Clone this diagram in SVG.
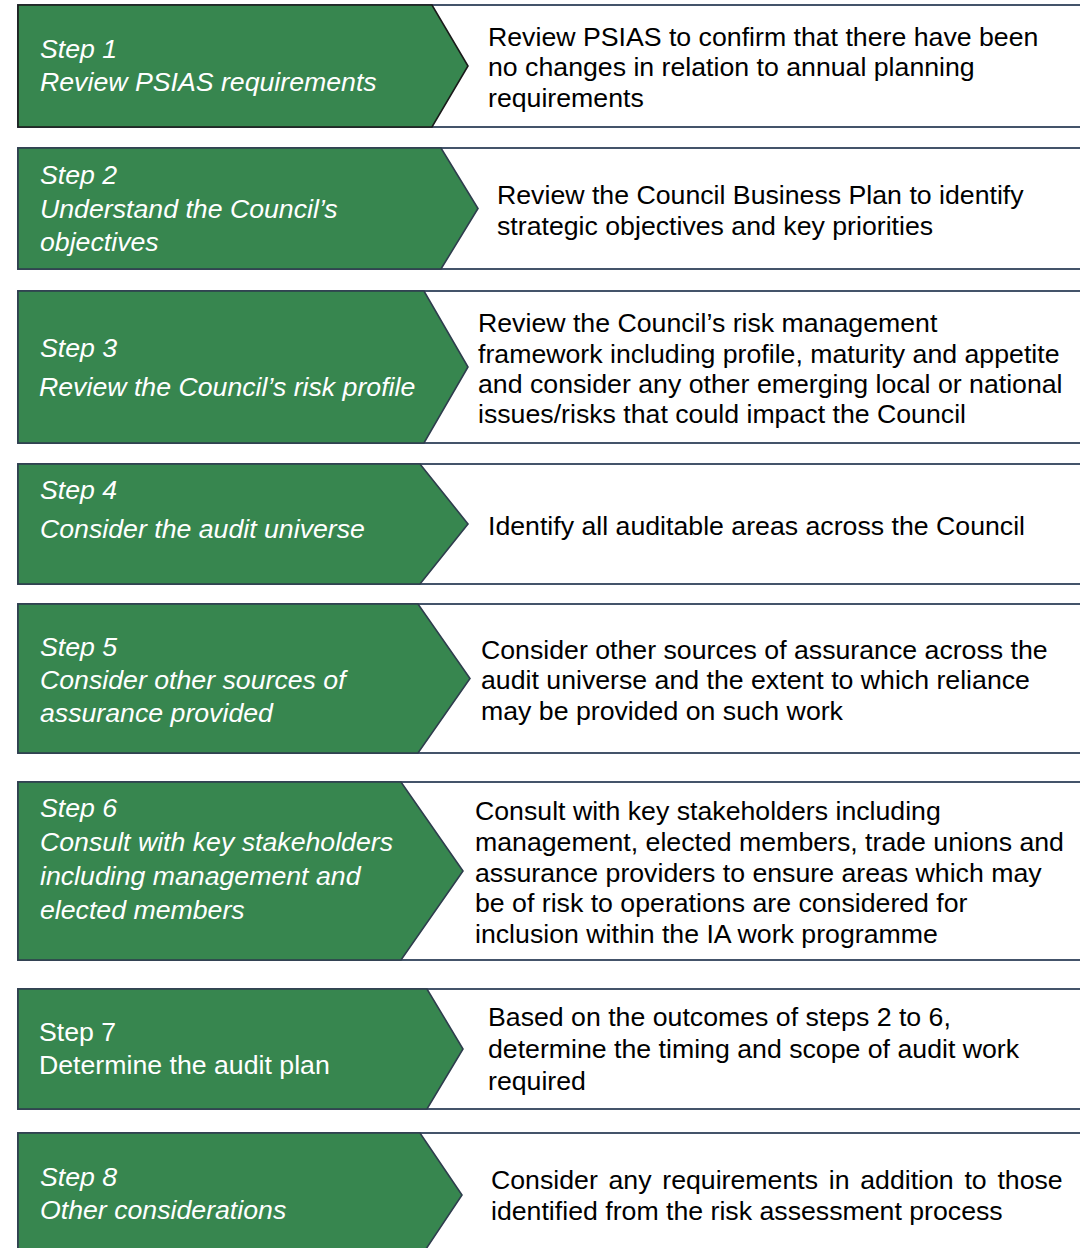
<svg xmlns="http://www.w3.org/2000/svg" width="1080" height="1248" viewBox="0 0 1080 1248">
<style>
.box{fill:#ffffff;stroke:#44546a;stroke-width:2}
.chev{fill:#37864f;stroke:#2e3d4d;stroke-width:1.6;stroke-linejoin:miter}
.lt{font-family:"Liberation Sans",Arial,sans-serif;font-size:26.7px;font-style:italic;fill:#ffffff}
.ln{font-style:normal}
.rt{font-family:"Liberation Sans",Arial,sans-serif;font-size:26.7px;fill:#000000}
</style>
<rect width="1080" height="1248" fill="#ffffff"/>
<g id="step1">
<rect class="box" x="18" y="5" width="1070" height="122"/>
<polygon class="chev" style="stroke:#1a1a1a" points="18,5 432,5 468,66 432,127 18,127"/>
<text class="lt" x="40" y="58">Step 1</text>
<text class="lt" x="40" y="91">Review PSIAS requirements</text>
<text class="rt" x="488" y="46">Review PSIAS to confirm that there have been</text>
<text class="rt" x="488" y="76">no changes in relation to annual planning</text>
<text class="rt" x="488" y="107">requirements</text>
</g>
<g id="step2">
<rect class="box" x="18" y="148" width="1070" height="121"/>
<polygon class="chev" points="18,148 441,148 478,208.5 441,269 18,269"/>
<text class="lt" x="40" y="184">Step 2</text>
<text class="lt" x="40" y="218">Understand the Council’s</text>
<text class="lt" x="40" y="251">objectives</text>
<text class="rt" x="497" y="204">Review the Council Business Plan to identify</text>
<text class="rt" x="497" y="235">strategic objectives and key priorities</text>
</g>
<g id="step3">
<rect class="box" x="18" y="291" width="1070" height="152"/>
<polygon class="chev" points="18,291 424,291 468,367 424,443 18,443"/>
<text class="lt" x="40" y="357">Step 3</text>
<text class="lt" x="39" y="396">Review the Council’s risk profile</text>
<text class="rt" x="478" y="332">Review the Council’s risk management</text>
<text class="rt" x="478" y="363">framework including profile, maturity and appetite</text>
<text class="rt" x="478" y="393">and consider any other emerging local or national</text>
<text class="rt" x="478" y="423">issues/risks that could impact the Council</text>
</g>
<g id="step4">
<rect class="box" x="18" y="464" width="1070" height="120"/>
<polygon class="chev" points="18,464 420,464 468,524 420,584 18,584"/>
<text class="lt" x="40" y="499">Step 4</text>
<text class="lt" x="40" y="538">Consider the audit universe</text>
<text class="rt" x="488" y="535">Identify all auditable areas across the Council</text>
</g>
<g id="step5">
<rect class="box" x="18" y="604" width="1070" height="149"/>
<polygon class="chev" points="18,604 418,604 470,678.5 418,753 18,753"/>
<text class="lt" x="40" y="656">Step 5</text>
<text class="lt" x="40" y="689">Consider other sources of</text>
<text class="lt" x="40" y="722">assurance provided</text>
<text class="rt" x="481" y="659">Consider other sources of assurance across the</text>
<text class="rt" x="481" y="689">audit universe and the extent to which reliance</text>
<text class="rt" x="481" y="720">may be provided on such work</text>
</g>
<g id="step6">
<rect class="box" x="18" y="782" width="1070" height="178"/>
<polygon class="chev" points="18,782 401,782 463,871 401,960 18,960"/>
<text class="lt" x="40" y="817">Step 6</text>
<text class="lt" x="40" y="851">Consult with key stakeholders</text>
<text class="lt" x="40" y="885">including management and</text>
<text class="lt" x="40" y="919">elected members</text>
<text class="rt" x="475" y="820">Consult with key stakeholders including</text>
<text class="rt" x="475" y="851">management, elected members, trade unions and</text>
<text class="rt" x="475" y="882">assurance providers to ensure areas which may</text>
<text class="rt" x="475" y="912">be of risk to operations are considered for</text>
<text class="rt" x="475" y="943">inclusion within the IA work programme</text>
</g>
<g id="step7">
<rect class="box" x="18" y="989" width="1070" height="120"/>
<polygon class="chev" points="18,989 427,989 463,1049 427,1109 18,1109"/>
<text class="lt ln" x="39" y="1041">Step 7</text>
<text class="lt ln" x="39" y="1074">Determine the audit plan</text>
<text class="rt" x="488" y="1026">Based on the outcomes of steps 2 to 6,</text>
<text class="rt" x="488" y="1058">determine the timing and scope of audit work</text>
<text class="rt" x="488" y="1090">required</text>
</g>
<g id="step8">
<rect class="box" x="18" y="1133" width="1070" height="125"/>
<polygon class="chev" points="18,1133 420,1133 462,1195 420,1258 18,1258"/>
<text class="lt" x="40" y="1186">Step 8</text>
<text class="lt" x="40" y="1219">Other considerations</text>
<text class="rt" x="491" y="1189" word-spacing="3.3">Consider any requirements in addition to those</text>
<text class="rt" x="491" y="1220">identified from the risk assessment process</text>
</g>
<g id="connectors"></g>
</svg>
